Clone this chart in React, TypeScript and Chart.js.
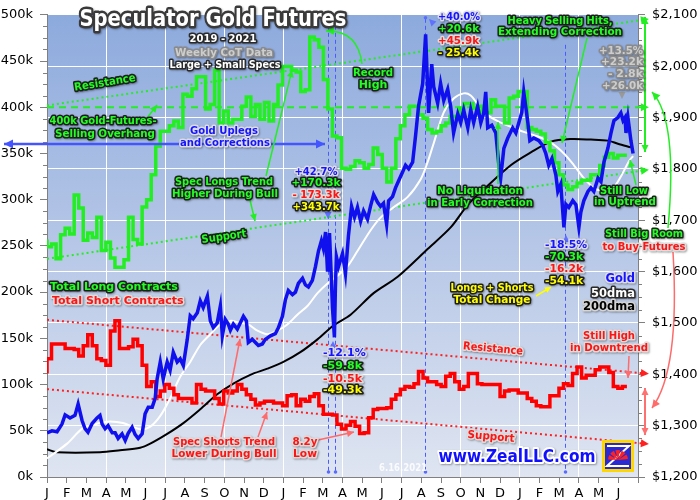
import React, { useEffect, useRef } from 'react';
import { Chart, registerables } from 'chart.js';

Chart.register(...registerables);

// ---------- DATA ----------
const monthLabels = ['J','F','M','A','M','J','J','A','S','O','N','D','J','F','M','A','M','J','J','A','S','O','N','D','J','F','M','A','M','J'];

// weekly CoT, thousands of contracts, starting first week of Jan 2019
const totalLongsK = [
  257,249,252,236,262,269,263,305,291,256,
  264,259,281,245,254,237,227,227,235,281,
  257,252,292,300,327,358,374,374,380,385,
  378,414,412,420,433,433,398,403,440,383,
  396,383,387,387,401,411,390,403,387,405,
  385,403,424,444,444,440,438,417,419,476,
  473,465,430,398,369,367,334,333,336,342,
  340,334,338,356,349,334,319,334,366,380,
  392,401,401,392,388,376,372,374,380,383,
  390,390,399,404,404,399,401,394,394,408,
  401,401,383,410,412,417,417,378,376,374,
  371,362,353,340,327,316,311,314,318,321,
  321,327,327,337,346,350,345,348,348,
];
const totalShortsK = [
  112,128,144,144,144,139,139,138,131,142,
  154,142,128,126,121,158,169,139,139,141,
  149,142,121,98,103,87,93,100,96,89,
  85,85,85,80,100,95,93,93,85,79,
  93,91,93,100,95,89,84,78,80,82,
  82,80,80,77,88,89,77,84,82,87,
  90,77,68,68,67,57,52,56,60,55,
  47,48,64,73,74,74,75,84,89,95,
  98,97,101,114,107,103,103,100,98,109,
  112,103,95,98,112,112,101,100,100,100,
  100,87,93,94,94,91,91,85,82,77,
  76,76,88,88,96,101,99,112,119,107,
  110,110,116,119,119,113,98,96,98,
];

// gold price (months since Jan 1 2019, $/oz)
const goldMonths = [
  0.00,0.25,0.51,0.76,0.92,1.17,1.42,1.58,1.78,1.93,2.08,2.29,2.54,2.69,2.80,2.95,3.10,3.31,3.46,3.61,
  3.81,3.97,4.12,4.32,4.47,4.63,4.83,4.98,5.14,5.34,5.49,5.59,5.75,5.90,6.10,6.25,6.41,6.61,6.76,6.92,
  7.12,7.27,7.42,7.63,7.78,7.93,8.14,8.29,8.44,8.64,8.80,8.90,9.05,9.20,9.31,9.46,9.66,9.81,9.97,10.12,
  10.22,10.42,10.58,10.73,10.93,11.08,11.34,11.59,11.75,11.95,12.10,12.25,12.46,12.61,12.76,12.97,13.12,13.27,13.47,13.63,
  13.78,13.93,14.03,14.14,14.24,14.34,14.44,14.49,14.59,14.64,14.69,14.80,15.00,15.15,15.30,15.46,15.61,15.76,15.92,16.07,
  16.27,16.42,16.58,16.78,16.93,17.08,17.24,17.34,17.54,17.69,17.85,18.05,18.20,18.36,18.56,18.71,18.86,19.07,19.22,19.32,
  19.37,19.53,19.63,19.83,19.98,20.14,20.34,20.49,20.64,20.85,21.00,21.15,21.36,21.51,21.66,21.86,22.02,22.17,22.27,22.37,
  22.58,22.78,22.93,23.03,23.19,23.39,23.64,23.80,23.95,24.10,24.20,24.41,24.51,24.71,24.97,25.17,25.32,25.47,25.63,25.83,
  25.93,26.08,26.24,26.34,26.49,26.69,26.85,27.00,27.10,27.25,27.46,27.61,27.76,27.97,28.12,28.27,28.47,28.63,28.78,28.98,
  29.13,29.24,29.34,29.39,29.49,29.64,29.75,
];
const goldPrices = [
  1286,1290,1288,1303,1321,1315,1320,1342,1310,1294,1287,1304,1315,1320,1303,1294,1300,1286,1286,1275,
  1284,1271,1285,1297,1283,1275,1284,1323,1336,1336,1353,1391,1424,1391,1424,1408,1443,1424,1430,1417,
  1468,1514,1508,1520,1543,1530,1552,1504,1491,1500,1533,1475,1507,1498,1486,1498,1488,1500,1513,1504,
  1462,1468,1462,1456,1459,1468,1475,1479,1491,1513,1545,1563,1555,1560,1577,1587,1574,1570,1583,1610,
  1640,1660,1645,1677,1600,1675,1580,1530,1472,1570,1629,1610,1635,1596,1669,1727,1706,1725,1698,1718,
  1702,1727,1750,1735,1727,1733,1692,1738,1746,1763,1777,1794,1807,1800,1813,1865,1922,1966,2062,1960,
  1909,2004,1960,1928,1966,1933,1955,1922,1870,1907,1890,1915,1880,1915,1890,1922,1890,1909,1950,1880,
  1885,1870,1810,1782,1840,1860,1880,1870,1890,1910,1950,1890,1855,1860,1855,1845,1830,1807,1820,1788,
  1756,1770,1686,1731,1725,1738,1730,1686,1716,1738,1756,1763,1756,1782,1775,1813,1840,1870,1894,1900,
  1909,1894,1900,1870,1900,1855,1830,
];

const dma50Months = [0,1.02,1.83,2.69,3.20,3.86,4.73,5.24,5.75,6.25,6.76,7.27,7.78,8.29,8.80,9.31,9.81,10.22,10.68,11.19,11.69,12.20,12.71,13.22,13.73,14.24,14.75,15.25,15.76,16.42,16.93,17.59,18.30,18.97,19.32,19.63,20.14,20.64,21.15,21.51,21.86,22.37,22.88,23.54,24.20,24.91,25.58,26.24,26.75,27.25,27.76,28.27,28.78,29.13,29.54,29.75];
const dma50Prices = [1236,1265,1295,1305,1308,1305,1293,1298,1319,1353,1395,1424,1457,1478,1497,1504,1500,1497,1485,1478,1485,1497,1516,1533,1558,1577,1592,1610,1640,1680,1705,1725,1745,1780,1813,1850,1910,1937,1947,1943,1926,1905,1893,1882,1872,1863,1851,1830,1807,1782,1763,1757,1765,1785,1815,1825];

const dma200Months = [0,0.51,2.69,3.71,4.73,5.24,6.10,6.92,7.78,8.64,9.46,10.32,11.19,12.00,12.86,13.73,14.54,15.41,16.58,17.80,19.32,20.49,21.36,22.17,23.54,24.56,25.58,26.59,27.61,28.47,28.98,29.64];
const dma200Prices = [1254,1248,1248,1252,1257,1265,1284,1305,1332,1361,1382,1399,1411,1424,1443,1468,1495,1516,1558,1590,1644,1686,1730,1760,1807,1832,1853,1858,1857,1855,1849,1842];

// trend channels (thousands of contracts) at start / end months
const trendMonths = [0, 30.4];
const longResistanceK = [402, 495];
const longSupportK = [236, 332];
const shortResistanceK = [170, 112];
const shortSupportK = [95, 36];
const overhangK = [400, 400];
// key turning points (months since Jan 2019)
const eventMonths = [14.28, 14.6, 19.17, 26.28];

const WEEK = 7 / 30.4375;
const FONT = '"DejaVu Sans", Verdana, sans-serif';

type TS = { fill: string; stroke?: string; lw?: number; alpha?: number };
const G: TS = { fill: '#22ff22', stroke: '#1e1e1e' };
const R: TS = { fill: '#ff1414', stroke: '#dcdcdc' };
const B: TS = { fill: '#1414ff', stroke: '#dcdce8' };
const Y: TS = { fill: '#ffff00', stroke: '#1e1e1e' };
const GR: TS = { fill: '#cdcdcd', stroke: '#8a8a8a' };
const WH: TS = { fill: '#ffffff', stroke: '#2a2a2a' };
const BK: TS = { fill: '#000000', stroke: '#d4d4d4' };

function txt(ctx: CanvasRenderingContext2D, s: string, x: number, y: number, st: TS, size = 11, align: CanvasTextAlign = 'center', w?: number, rot = 0) {
  ctx.save();
  ctx.translate(x, y);
  if (rot) ctx.rotate((rot * Math.PI) / 180);
  ctx.font = `bold ${size}px ${FONT}`;
  ctx.textAlign = align;
  ctx.textBaseline = 'middle';
  ctx.lineJoin = 'round';
  if (st.alpha != null) ctx.globalAlpha = st.alpha;
  if (st.stroke) {
    ctx.strokeStyle = st.stroke;
    ctx.lineWidth = st.lw ?? 3.2;
    ctx.shadowColor = 'rgba(0,0,0,0.35)';
    ctx.shadowBlur = 2;
    ctx.shadowOffsetX = 1;
    ctx.shadowOffsetY = 1;
    if (w) ctx.strokeText(s, 0, 0, w); else ctx.strokeText(s, 0, 0);
    ctx.shadowColor = 'transparent';
  }
  ctx.fillStyle = st.fill;
  if (w) ctx.fillText(s, 0, 0, w); else ctx.fillText(s, 0, 0);
  ctx.restore();
}

function head(ctx: CanvasRenderingContext2D, x: number, y: number, ang: number, size: number, color: string) {
  ctx.save();
  ctx.translate(x, y);
  ctx.rotate(ang);
  ctx.beginPath();
  ctx.moveTo(0, 0);
  ctx.lineTo(-size, -size * 0.5);
  ctx.lineTo(-size, size * 0.5);
  ctx.closePath();
  ctx.fillStyle = color;
  ctx.fill();
  ctx.restore();
}

function arrow(ctx: CanvasRenderingContext2D, x1: number, y1: number, x2: number, y2: number, color: string, lw = 1.5, hs = 7, both = false) {
  ctx.save();
  ctx.strokeStyle = color;
  ctx.lineWidth = lw;
  ctx.beginPath();
  ctx.moveTo(x1, y1);
  ctx.lineTo(x2, y2);
  ctx.stroke();
  const a = Math.atan2(y2 - y1, x2 - x1);
  head(ctx, x2, y2, a, hs, color);
  if (both) head(ctx, x1, y1, a + Math.PI, hs, color);
  ctx.restore();
}

function curve(ctx: CanvasRenderingContext2D, x1: number, y1: number, cx: number, cy: number, x2: number, y2: number, color: string, lw = 1.5, hs = 7) {
  ctx.save();
  ctx.strokeStyle = color;
  ctx.lineWidth = lw;
  ctx.beginPath();
  ctx.moveTo(x1, y1);
  ctx.quadraticCurveTo(cx, cy, x2, y2);
  ctx.stroke();
  head(ctx, x2, y2, Math.atan2(y2 - cy, x2 - cx), hs, color);
  ctx.restore();
}

const bgPlugin = {
  id: 'bg',
  beforeDraw(chart: any) {
    const { ctx, chartArea: a } = chart;
    ctx.save();
    ctx.fillStyle = '#ffffff';
    ctx.fillRect(0, 0, chart.width, chart.height);
    const g = ctx.createLinearGradient(0, a.top, 0, a.bottom);
    g.addColorStop(0, '#8daadd');
    g.addColorStop(0.5, '#b6c7e7');
    g.addColorStop(1, '#dfe5f1');
    ctx.fillStyle = g;
    ctx.fillRect(a.left, a.top, a.right - a.left, a.bottom - a.top);
    ctx.restore();
  },
  beforeDatasetsDraw(chart: any) {
    const { ctx, chartArea: a, scales } = chart;
    const xs = scales.x;
    ctx.save();
    ctx.strokeStyle = '#4a5cff';
    ctx.lineWidth = 1;
    ctx.setLineDash([4, 3]);
    eventMonths.forEach((m, i) => {
      const x = Math.round(xs.getPixelForValue(m)) + 0.5;
      const top = i === 3 ? a.top + 30 : a.top + 4;
      ctx.beginPath();
      ctx.moveTo(x, top);
      ctx.lineTo(x, a.bottom - 5);
      ctx.stroke();
    });
    ctx.restore();
    ctx.save();
    ctx.fillStyle = '#5a6cff';
    eventMonths.forEach((m, i) => {
      const x = Math.round(xs.getPixelForValue(m)) + 0.5;
      ctx.beginPath();
      ctx.arc(x, a.bottom - 5, 1.8, 0, Math.PI * 2);
      ctx.fill();
      if (i !== 3) {
        ctx.beginPath();
        ctx.arc(x, a.top + 3, 1.8, 0, Math.PI * 2);
        ctx.fill();
      }
    });
    ctx.restore();
  },
  afterDatasetsDraw(chart: any) {
    const { ctx, chartArea: a, scales } = chart;
    const xs = scales.x, yl = scales.y, yr = scales.y2;

    // minor ticks
    ctx.save();
    ctx.strokeStyle = '#808080';
    ctx.lineWidth = 1;
    ctx.beginPath();
    for (let v = 12500; v < 500000; v += 12500) {
      if (v % 50000 === 0) continue;
      const y = Math.round(yl.getPixelForValue(v)) + 0.5;
      ctx.moveTo(a.left - 4, y); ctx.lineTo(a.left, y);
    }
    for (let v = 1225; v < 2100; v += 25) {
      if (v % 100 === 0) continue;
      const y = Math.round(yr.getPixelForValue(v)) + 0.5;
      ctx.moveTo(a.right, y); ctx.lineTo(a.right + 4, y);
    }
    ctx.stroke();
    ctx.restore();

    // trend line arrowheads
    const endHead = (arr: number[], color: string) => {
      const x1 = xs.getPixelForValue(trendMonths[0]), y1 = yl.getPixelForValue(arr[0] * 1000);
      const x2 = xs.getPixelForValue(trendMonths[1]), y2 = yl.getPixelForValue(arr[1] * 1000);
      head(ctx, x2 + 3, y2 + (y2 - y1) / (x2 - x1) * 3, Math.atan2(y2 - y1, x2 - x1), 8, color);
    };
    endHead(longResistanceK, '#22ee22');
    endHead(longSupportK, '#22ee22');
    endHead(overhangK, '#22ee22');
    endHead(shortResistanceK, '#ff2020');
    endHead(shortSupportK, '#ff2020');

    // double arrows on right
    arrow(ctx, 645, 17, 645, 152, '#22ee22', 2, 7, true);
    arrow(ctx, 645, 388, 645, 435, '#ff7070', 2, 7, true);

    // blue uplegs arrow
    arrow(ctx, 4, 144, 325, 144, '#4455ff', 2.5, 9, true);

    // green pointer arrows
    const ga = '#22ee22';
    arrow(ctx, 147, 118, 157, 105, ga, 1.5, 7);
    arrow(ctx, 266, 176, 292, 70, ga, 1.5, 7);
    arrow(ctx, 250, 200, 255, 221, ga, 1.5, 7);
    curve(ctx, 362, 64, 358, 30, 326, 31, ga, 1.5, 8);
    arrow(ctx, 498, 184, 498, 122, ga, 1.5, 7);
    arrow(ctx, 587, 38, 562, 143, ga, 1.5, 7);
    arrow(ctx, 636, 185, 630, 160, ga, 1.5, 7);
    curve(ctx, 668, 228, 678, 120, 652, 92, ga, 1.5, 8);

    // red pointer arrows
    const ra = '#ff6a6a';
    arrow(ctx, 221, 437, 240, 339, ra, 1.5, 7);
    arrow(ctx, 258, 437, 267, 412, ra, 1.5, 7);
    arrow(ctx, 318, 440, 354, 432, ra, 1.5, 7);
    arrow(ctx, 629, 356, 628, 378, ra, 1.5, 7);
    curve(ctx, 673, 252, 680, 370, 652, 408, ra, 1.5, 8);

    // yellow arrow
    arrow(ctx, 536, 296, 551, 287, '#ffff00', 1.5, 6);

    // small markers
    head(ctx, 328, 219, Math.PI / 2, 7, '#6070ff');
    head(ctx, 333, 341, -Math.PI / 2, 7, '#6070ff');
    head(ctx, 566, 235, -Math.PI / 2, 7, '#6070ff');
    head(ctx, 622, 99, Math.PI / 2, 7, '#999999');
    head(ctx, 429, 19, -Math.PI * 0.75, 7, '#6070ff');

    // ---- texts ----
    txt(ctx, 'Speculator Gold Futures', 213, 20, { fill: '#ffffff', stroke: '#3a3a3a', lw: 5 }, 23, 'center', 267);
    txt(ctx, '2019 - 2021', 223, 39, WH, 10, 'center', 67);
    txt(ctx, 'Weekly CoT Data', 224, 53, GR, 10.5, 'center', 98);
    txt(ctx, 'Large + Small Specs', 225, 65, WH, 10.5, 'center', 111);

    txt(ctx, 'Resistance', 105, 83, G, 11, 'center', 62, -9);
    txt(ctx, '400k Gold-Futures-', 103, 121, G, 11, 'center', 107);
    txt(ctx, 'Selling Overhang', 105, 134, G, 11, 'center', 100);
    txt(ctx, 'Gold Uplegs', 224, 131, B, 11, 'center', 68);
    txt(ctx, 'and Corrections', 225, 143, B, 11, 'center', 90);
    txt(ctx, 'Spec Longs Trend', 224, 182, G, 11, 'center', 98);
    txt(ctx, 'Higher During Bull', 225, 194, G, 11, 'center', 106);
    txt(ctx, 'Support', 224, 237, G, 11, 'center', 45, -8);
    txt(ctx, 'Record', 373, 73, G, 11, 'center', 40);
    txt(ctx, 'High', 373, 85, G, 11, 'center', 29);

    txt(ctx, '+42.7%', 316, 172, B, 11, 'center', 43);
    txt(ctx, '+170.3k', 316, 183, G, 11, 'center', 49);
    txt(ctx, '- 173.3k', 316, 195, R, 11, 'center', 47);
    txt(ctx, '+343.7k', 316, 207, Y, 11, 'center', 47);

    txt(ctx, '+40.0%', 438, 17, B, 11, 'left', 42);
    txt(ctx, '+20.6k', 438, 29, G, 11, 'left', 41);
    txt(ctx, '+45.9k', 438, 41, R, 11, 'left', 41);
    txt(ctx, '- 25.4k', 438, 53, Y, 11, 'left', 41);

    txt(ctx, 'Heavy Selling Hits,', 560, 21, G, 11, 'center', 105);
    txt(ctx, 'Extending Correction', 560, 32, G, 11, 'center', 124);

    txt(ctx, '+13.5%', 643, 51, GR, 11, 'right', 44);
    txt(ctx, '+23.2k', 643, 62, GR, 11, 'right', 42);
    txt(ctx, '- 2.8k', 643, 74, GR, 11, 'right', 35);
    txt(ctx, '+26.0k', 643, 86, GR, 11, 'right', 41);

    txt(ctx, 'No Liquidation', 480, 191, G, 11, 'center', 86);
    txt(ctx, 'in Early Correction', 480, 203, G, 11, 'center', 106);
    txt(ctx, 'Still Low', 624, 191, G, 11, 'center', 48);
    txt(ctx, 'in Uptrend', 625, 202, G, 11, 'center', 62);
    txt(ctx, 'Still Big Room', 644, 234, G, 11, 'center', 78);
    txt(ctx, 'to Buy Futures', 644, 247, R, 11, 'center', 83);

    txt(ctx, '-18.5%', 545, 245, B, 11, 'left', 42);
    txt(ctx, '-70.3k', 545, 257, G, 11, 'left', 38);
    txt(ctx, '-16.2k', 545, 269, R, 11, 'left', 38);
    txt(ctx, '-54.1k', 545, 281, Y, 11, 'left', 38);

    txt(ctx, 'Gold', 635, 279, B, 11.5, 'right', 30);
    txt(ctx, '50dma', 635, 294, WH, 11.5, 'right', 45);
    txt(ctx, '200dma', 635, 307, BK, 11.5, 'right', 52);

    txt(ctx, 'Longs + Shorts', 492, 288, Y, 11, 'center', 83);
    txt(ctx, 'Total Change', 492, 300, Y, 11, 'center', 77);

    txt(ctx, 'Total Long Contracts', 50, 287, G, 11, 'left', 134);
    txt(ctx, 'Total Short Contracts', 52, 301, R, 11, 'left', 135);

    txt(ctx, '-12.1%', 323, 353, B, 11, 'left', 43);
    txt(ctx, '-59.8k', 323, 366, G, 11, 'left', 40);
    txt(ctx, '-10.5k', 323, 379, R, 11, 'left', 40);
    txt(ctx, '-49.3k', 323, 390, Y, 11, 'left', 40);

    txt(ctx, 'Resistance', 493, 349, R, 11, 'center', 60, 5);
    txt(ctx, 'Still High', 609, 336, R, 11, 'center', 52);
    txt(ctx, 'in Downtrend', 609, 348, R, 11, 'center', 78);
    txt(ctx, 'Support', 491, 437, R, 11, 'center', 47, 5);
    txt(ctx, 'Spec Shorts Trend', 224, 442, R, 11, 'center', 102);
    txt(ctx, 'Lower During Bull', 224, 454, R, 11, 'center', 105);
    txt(ctx, '8.2y', 305, 442, R, 11, 'center', 25);
    txt(ctx, 'Low', 305, 454, R, 11, 'center', 24);

    txt(ctx, '6.16.2021', 403, 468, { fill: '#ffffff', alpha: 0.85 }, 10, 'center', 48);
    txt(ctx, 'www.ZealLLC.com', 517, 458, { fill: '#1010ff', stroke: '#ffffff', lw: 4 }, 17, 'center', 157);

    // logo
    ctx.save();
    ctx.fillStyle = '#ffd700';
    ctx.fillRect(602, 440, 32, 32);
    ctx.fillStyle = '#2a2ad0';
    ctx.fillRect(605, 443, 26, 26);
    ctx.strokeStyle = '#ffffff';
    ctx.lineWidth = 2;
    ctx.beginPath();
    ctx.moveTo(607, 446); ctx.lineTo(629, 446); ctx.lineTo(607, 466); ctx.lineTo(629, 466);
    ctx.stroke();
    ctx.fillStyle = '#ff2020';
    for (let i = 0; i < 5; i++) {
      const a0 = Math.PI + (i * Math.PI) / 5;
      ctx.beginPath();
      ctx.moveTo(618, 460);
      ctx.arc(618, 460, 10, a0 + 0.05, a0 + Math.PI / 5 - 0.1);
      ctx.closePath();
      ctx.fill();
    }
    ctx.restore();
  },
};

export default function App() {
  const ref = useRef<HTMLCanvasElement | null>(null);
  useEffect(() => {
    if (!ref.current) return;
    const trend = (vals: number[], color: string, dash: number[]) => ({
      data: trendMonths.map((m, i) => ({ x: m, y: vals[i] * 1000 })),
      yAxisID: 'y', borderColor: color, borderWidth: 2, borderDash: dash,
      pointRadius: 0, clip: false as any, fill: false,
    });
    const chart = new Chart(ref.current, {
      type: 'line',
      data: {
        datasets: [
          { data: goldMonths.map((m, i) => ({ x: m, y: goldPrices[i] })), yAxisID: 'y2', borderColor: '#1010ee', borderWidth: 3.5, pointRadius: 0, tension: 0 },
          { data: totalLongsK.map((v, i) => ({ x: i * WEEK, y: v * 1000 })), yAxisID: 'y', borderColor: '#22ee22', borderWidth: 3.5, pointRadius: 0, stepped: 'after' },
          { data: totalShortsK.map((v, i) => ({ x: i * WEEK, y: v * 1000 })), yAxisID: 'y', borderColor: '#ff0000', borderWidth: 3.5, pointRadius: 0, stepped: 'after' },
          { data: dma50Months.map((m, i) => ({ x: m, y: dma50Prices[i] })), yAxisID: 'y2', borderColor: '#ffffff', borderWidth: 2, pointRadius: 0, tension: 0.3 },
          { data: dma200Months.map((m, i) => ({ x: m, y: dma200Prices[i] })), yAxisID: 'y2', borderColor: '#000000', borderWidth: 2, pointRadius: 0, tension: 0.3 },
          trend(overhangK, '#22ee22', [7, 5]),
          trend(longResistanceK, '#22ee22', [2, 3]),
          trend(longSupportK, '#22ee22', [2, 3]),
          trend(shortResistanceK, '#ff2020', [2, 3]),
          trend(shortSupportK, '#ff2020', [2, 3]),
        ] as any,
      },
      options: {
        animation: false,
        responsive: false,
        events: [],
        layout: { padding: { top: 7, left: 0, right: 0, bottom: 0 } },
        plugins: { legend: { display: false }, tooltip: { enabled: false } },
        scales: {
          x: {
            type: 'linear', min: 0, max: 30,
            ticks: {
              stepSize: 1, autoSkip: false, maxRotation: 0, maxTicksLimit: 40, padding: 3,
              color: '#000', font: { family: FONT, size: 13 },
              callback: (v: any) => monthLabels[Math.round(v)] ?? '',
            },
            grid: {
              color: (c: any) => (c.tick && c.tick.value % 3 === 0 && c.tick.value > 0 && c.tick.value < 30 ? '#ffffff' : 'rgba(0,0,0,0)'),
              tickColor: '#808080', tickLength: 6, lineWidth: 1,
            },
            border: { color: '#808080', width: 1 },
            afterFit: (s: any) => { s.height = 23; },
          },
          y: {
            position: 'left', min: 0, max: 500000,
            ticks: { stepSize: 50000, maxTicksLimit: 20, padding: 7, color: '#000', font: { family: FONT, size: 13 }, callback: (v: any) => `${Math.round(v / 1000)}k` },
            grid: { drawOnChartArea: false, tickColor: '#808080', tickLength: 7 },
            border: { color: '#808080', width: 1 },
            afterFit: (s: any) => { s.width = 47; },
          },
          y2: {
            position: 'right', min: 1200, max: 2100,
            ticks: { stepSize: 100, maxTicksLimit: 20, padding: 7, color: '#000', font: { family: FONT, size: 13 }, callback: (v: any) => '$' + Number(v).toLocaleString('en-US') },
            grid: { color: '#ffffff', lineWidth: 1, tickColor: '#808080', tickLength: 7 },
            border: { color: '#808080', width: 1 },
            afterFit: (s: any) => { s.width = 62; },
          },
        },
      } as any,
      plugins: [bgPlugin],
    });
    return () => chart.destroy();
  }, []);
  return (
    <div style={{ position: 'fixed', left: 0, top: 0, width: 700, height: 500, background: '#fff' }}>
      <canvas ref={ref} width={700} height={500} style={{ display: 'block' }} />
    </div>
  );
}
